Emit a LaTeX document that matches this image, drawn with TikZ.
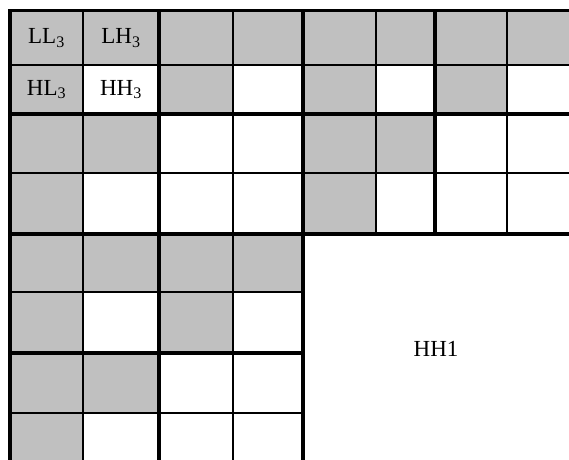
\documentclass[tikz,border=0pt]{standalone}
\usepackage{fontspec}
\setmainfont{Liberation Serif}
\definecolor{cCell}{RGB}{192,192,192}
\tikzset{
  cellfill/.style={fill=cCell, draw=none},
  gridthin/.style={draw=black, line width=2pt, line cap=rect},
  gridthick/.style={draw=black, line width=3.8pt, line cap=rect},
  bandlabel/.style={font=\fontsize{23}{27}\selectfont, inner sep=0pt, align=center},
}

\begin{document}
\begin{tikzpicture}[x=1pt, y=-1pt]

%% ============================================================
%%  FRAME  (picture is cut at the right and bottom edge)
%% ============================================================
\useasboundingbox (0,0) rectangle (569,459);
\clip (0,0) rectangle (569,459);

%% column and row edges
\def\xs{{10,83,159,233,303,376,435,507,580}}
\def\ys{{10.5,65,114,173,234,292,353,413,474}}

%% ============================================================
%%  GRAY CELLS  (col/row)
%% ============================================================
\foreach \c/\r in {0/0,1/0,2/0,3/0,4/0,5/0,6/0,7/0,
                   0/1,2/1,4/1,6/1,
                   0/2,1/2,4/2,5/2,
                   0/3,4/3,
                   0/4,1/4,2/4,3/4,
                   0/5,2/5,
                   0/6,1/6,
                   0/7} {
  \pgfmathsetmacro\xa{\xs[\c]}
  \pgfmathsetmacro\xb{\xs[\c+1]}
  \pgfmathsetmacro\ya{\ys[\r]}
  \pgfmathsetmacro\yb{\ys[\r+1]}
  \fill[cellfill] (\xa,\ya) rectangle (\xb,\yb);
}

%% ============================================================
%%  GRID LINES
%% ============================================================
%% horizontal, full width
\foreach \r/\w in {0/gridthick,1/gridthin,2/gridthick,3/gridthin,4/gridthick} {
  \pgfmathsetmacro\yy{\ys[\r]}
  \draw[\w] (10,\yy) -- (580,\yy);
}
%% horizontal, lower left block only
\foreach \r/\w in {5/gridthin,6/gridthick,7/gridthin} {
  \pgfmathsetmacro\yy{\ys[\r]}
  \draw[\w] (10,\yy) -- (303,\yy);
}
%% vertical, full height
\foreach \c/\w in {0/gridthick,1/gridthin,2/gridthick,3/gridthin,4/gridthick} {
  \pgfmathsetmacro\xx{\xs[\c]}
  \draw[\w] (\xx,10.5) -- (\xx,474);
}
%% vertical, upper right block only
\foreach \c/\w in {5/gridthin,6/gridthick,7/gridthin} {
  \pgfmathsetmacro\xx{\xs[\c]}
  \draw[\w] (\xx,10.5) -- (\xx,234);
}

%% ============================================================
%%  LABELS
%% ============================================================
\node[bandlabel] (LL3) at (46.5,37.75) {LL\textsubscript{3}};
\node[bandlabel] (LH3) at (121,37.75)  {LH\textsubscript{3}};
\node[bandlabel] (HL3) at (46.5,89.5)  {HL\textsubscript{3}};
\node[bandlabel] (HH3) at (121,89.5)   {HH\textsubscript{3}};
\node[bandlabel] (HH1) at (436,349)    {HH1};

\end{tikzpicture}
\end{document}
